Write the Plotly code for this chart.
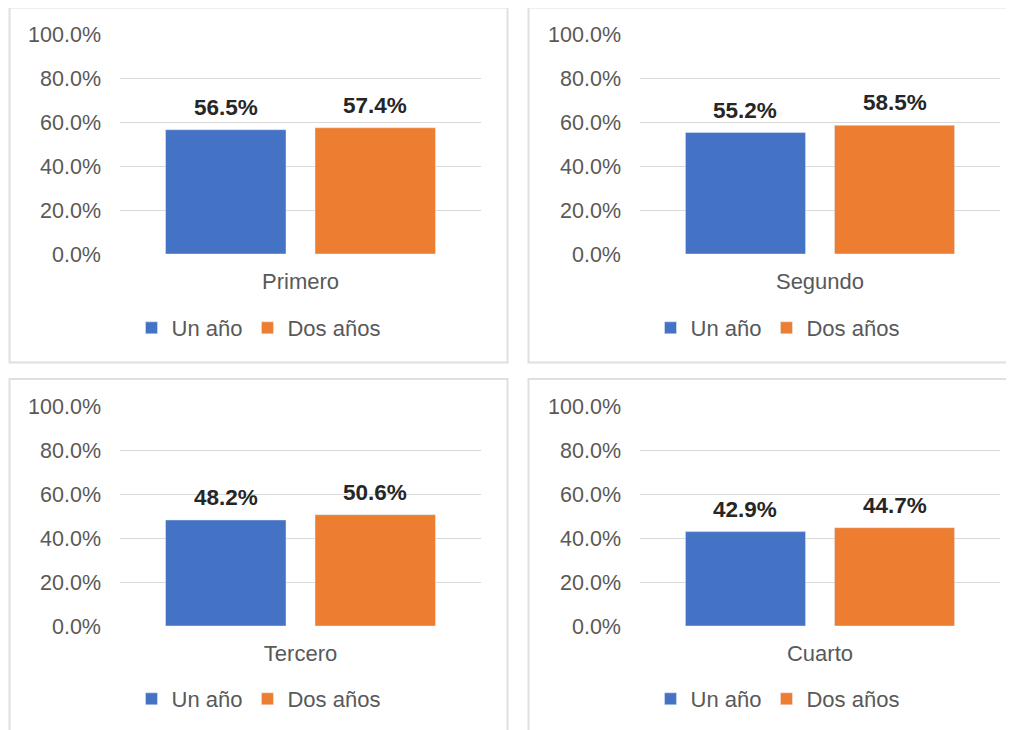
import plotly.graph_objects as go

# ---- data ----
periods = ["Primero", "Segundo", "Tercero", "Cuarto"]
series_names = ["Un año", "Dos años"]
un_ano = [0.565, 0.552, 0.482, 0.429]
dos_anos = [0.574, 0.585, 0.506, 0.447]
y_ticks = [0.0, 0.2, 0.4, 0.6, 0.8, 1.0]

# ---- style ----
OFF = 8                      # page body margin compensation
W, H = 1014 - OFF, 730 - OFF
BLUE = "#4472C4"
ORANGE = "#ED7D31"
GRID = "#D9D9D9"
AXTXT = "#595959"
LBL = "#262626"
FONT = "Liberation Sans, Arial, sans-serif"
BARGAP = 0.172
GROUPGAP = 0.194

# plot areas in reference pixels (x0, x1, ytop(100%), ybottom(0%))
areas = [(120, 481, 34, 254), (640, 1000, 34, 254),
         (120, 481, 406, 626), (640, 1000, 406, 626)]
panels = [(9.5, 507.5, 7.5, 362.5), (528.5, 1040, 7.5, 362.5),
          (9.5, 507.5, 379, 760), (528.5, 1040, 379, 760)]
legend_pos = [(258.5, 328), (777.5, 328), (258.5, 699), (777.5, 699)]


def fx(px):
    return (px - OFF) / W


def fy(py):
    return 1 - (py - OFF) / H


fig = go.Figure()
layout = dict(
    width=W, height=H, margin=dict(l=0, r=0, t=0, b=0, autoexpand=False),
    paper_bgcolor="white", plot_bgcolor="white",
    barmode="group", bargap=BARGAP, bargroupgap=GROUPGAP,
    font=dict(family=FONT, size=21, color=AXTXT),
    shapes=[], annotations=[],
)

offset = (1 - BARGAP) / 4
for i, p in enumerate(periods):
    n = "" if i == 0 else str(i + 1)
    xa, ya = "x" + n, "y" + n
    lg = "legend" + n
    for s, (name, vals, col) in enumerate(zip(series_names, [un_ano, dos_anos], [BLUE, ORANGE])):
        fig.add_trace(go.Bar(
            x=[p], y=[vals[i]], name=name, marker_color=col,
            xaxis=xa, yaxis=ya, legend=lg, showlegend=True,
            hovertemplate="%{y:.1%}<extra>" + name + "</extra>",
        ))
        layout["annotations"].append(dict(
            xref=xa, yref=ya, x=(s - 0.5) * 2 * offset, y=vals[i],
            text="<b>%.1f%%</b>" % (vals[i] * 100), showarrow=False,
            yanchor="bottom", yshift=8,
            font=dict(family=FONT, size=22.5, color=LBL),
        ))
    x0, x1, yt, yb = areas[i]
    layout["xaxis" + n] = dict(
        domain=[fx(x0), fx(x1)], anchor=ya, type="category",
        showgrid=False, ticks="", showline=False, zeroline=False,
        tickfont=dict(size=22, color=AXTXT), ticklabelstandoff=12,
        automargin=False, fixedrange=True,
    )
    layout["yaxis" + n] = dict(
        domain=[fy(yb), fy(yt)], anchor=xa, range=[0, 1],
        tickvals=y_ticks, tickformat=".1%", showgrid=True, gridcolor=GRID,
        gridwidth=1, zeroline=False, showline=False, ticks="",
        tickfont=dict(size=21.5, color=AXTXT), ticklabelstandoff=18,
        automargin=False, fixedrange=True,
    )
    lx, ly = legend_pos[i]
    layout[lg] = dict(
        orientation="h", x=fx(lx), y=fy(ly), xanchor="center", yanchor="middle",
        font=dict(size=22, color=AXTXT), bgcolor="rgba(0,0,0,0)",
        itemwidth=30, traceorder="normal",
    )
    px0, px1, py0, py1 = panels[i]
    layout["shapes"].append(dict(
        type="rect", xref="paper", yref="paper",
        x0=fx(px0), x1=fx(px1), y0=fy(py1), y1=fy(py0),
        line=dict(color="#E0E0E0", width=2), fillcolor="rgba(0,0,0,0)", layer="below",
    ))

fig.update_layout(**layout)
fig.write_html("out.html")
